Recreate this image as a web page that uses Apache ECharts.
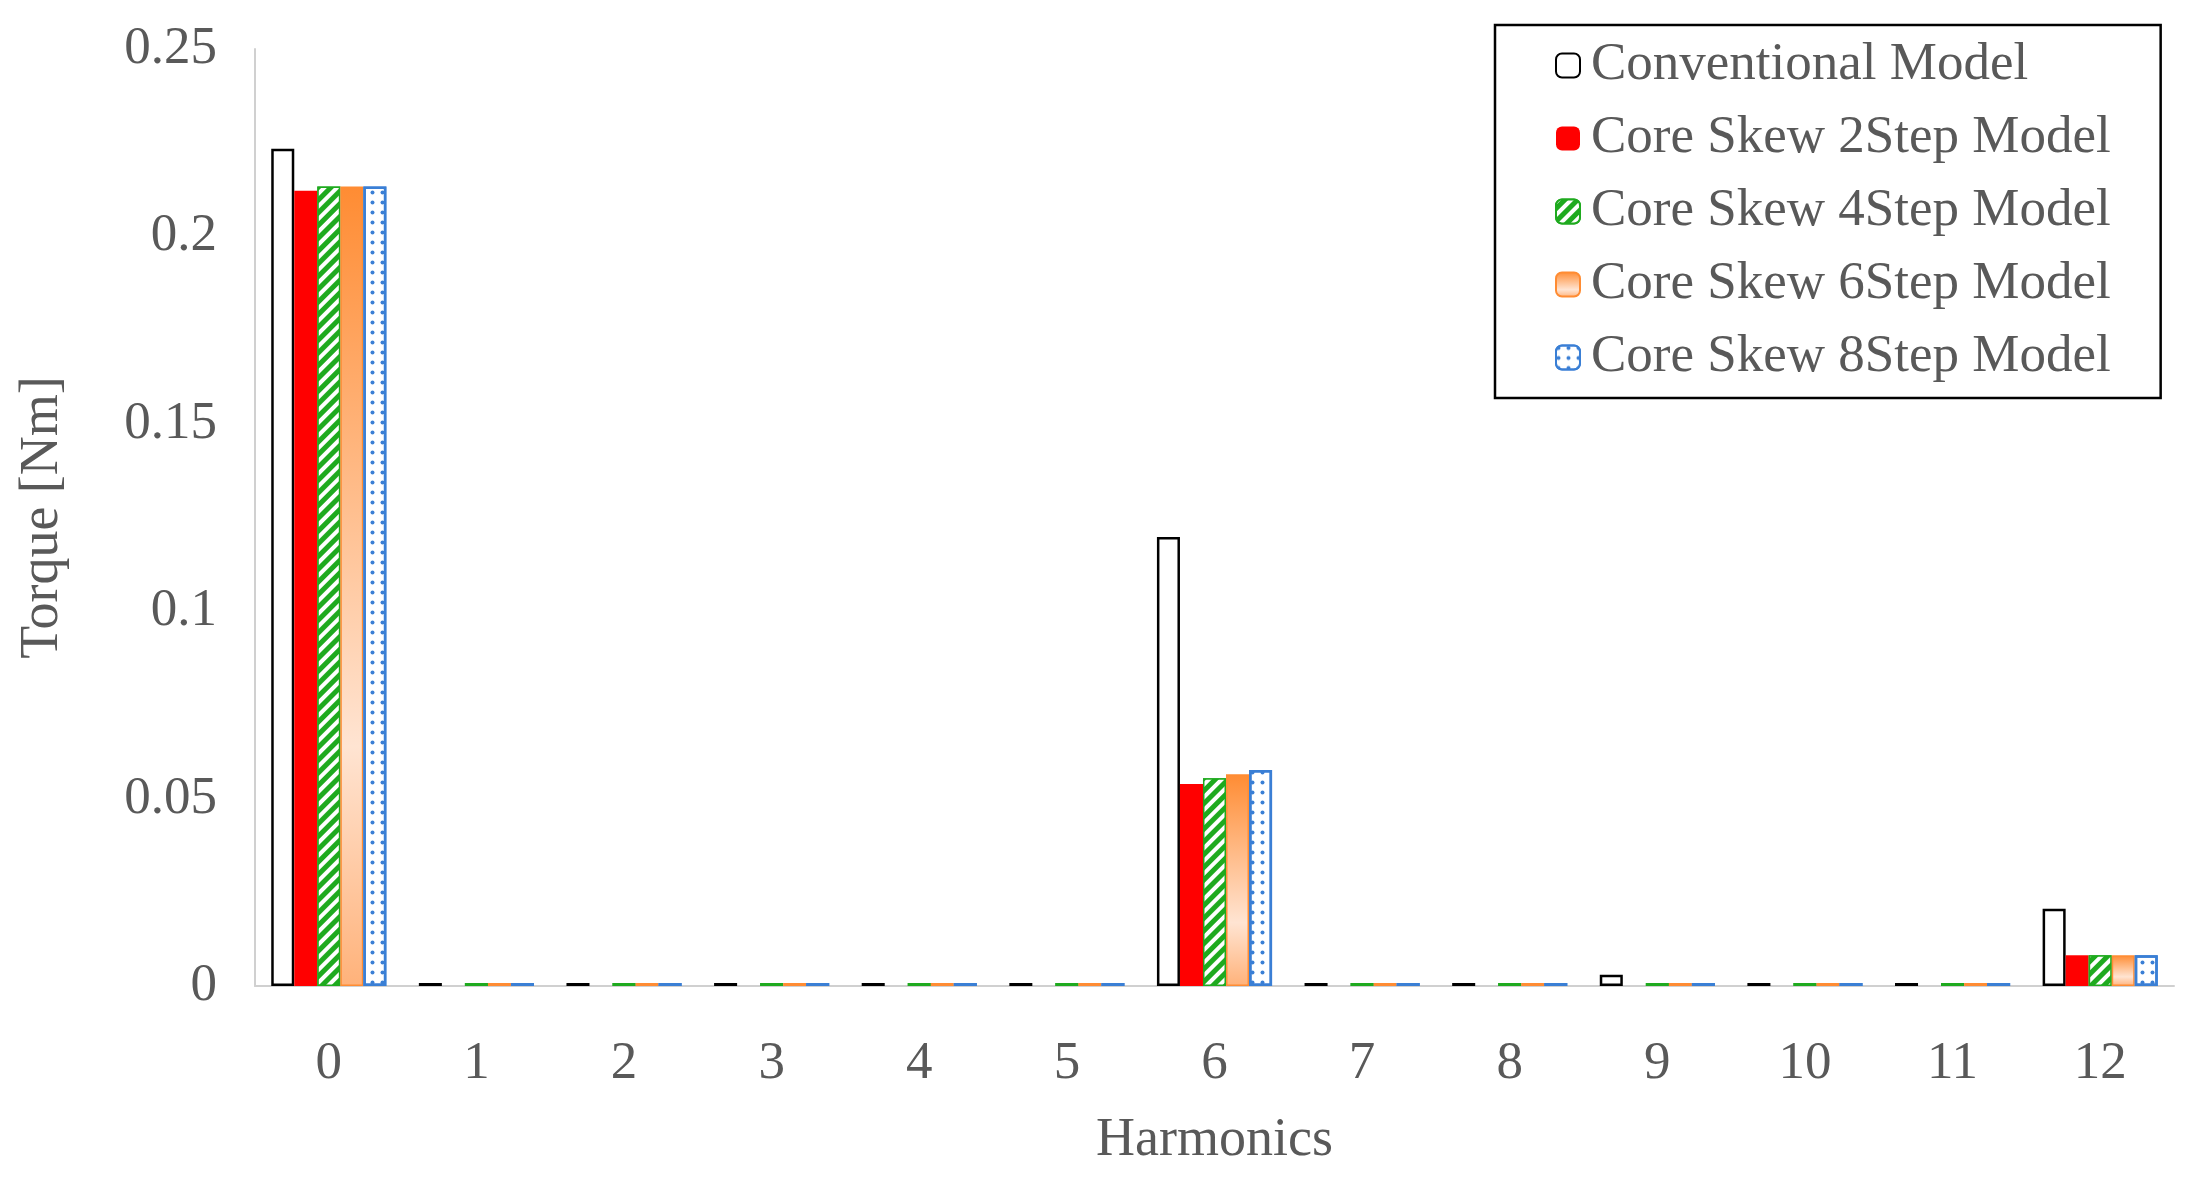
<!DOCTYPE html>
<html>
<head>
<meta charset="utf-8">
<script src="https://cdn.jsdelivr.net/npm/echarts@6/dist/echarts.min.js"></script>
<style>html,body{margin:0;padding:0;background:#fff}#chart{width:2199px;height:1188px}</style>
</head>
<body>
<div id="chart"></div>
<script>
var harmonics = ['0','1','2','3','4','5','6','7','8','9','10','11','12'];
var conventional = [0.2234,0.0008,0.0008,0.0008,0.0008,0.0008,0.1198,0.0008,0.0008,0.003,0.0008,0.0008,0.0206];
var skew2 = [0.2122,0,0,0,0,0,0.0539,0,0,0,0,0,0.0082];
var skew4 = [0.2133,0.0008,0.0008,0.0008,0.0008,0.0008,0.0554,0.0008,0.0008,0.0008,0.0008,0.0008,0.0082];
var skew6 = [0.2133,0.0008,0.0008,0.0008,0.0008,0.0008,0.0565,0.0008,0.0008,0.0008,0.0008,0.0008,0.0082];
var skew8 = [0.2133,0.0008,0.0008,0.0008,0.0008,0.0008,0.0576,0.0008,0.0008,0.0008,0.0008,0.0008,0.0082];
var yTicks = ['0','0.05','0.1','0.15','0.2','0.25'];

var font = 'Liberation Serif';
var txt = '#595959';

var option = {
    backgroundColor: '#fff',
    grid: { left: 255, right: 25, top: 49, bottom: 202 },
    legend: {
        orient: 'vertical',
        left: 1495, top: 25,
        padding: [14, 50, 14, 60],
        itemGap: 20,
        itemWidth: 24, itemHeight: 24,
        borderColor: '#000', borderWidth: 2.5,
        textStyle: { fontFamily: font, fontSize: 53, color: txt, padding: [0, 0, 0, 6] },
        data: ['Conventional Model', 'Core Skew 2Step Model', 'Core Skew 4Step Model', 'Core Skew 6Step Model', 'Core Skew 8Step Model']
    },
    xAxis: {
        type: 'category',
        data: harmonics,
        name: 'Harmonics',
        nameLocation: 'middle',
        nameGap: 128,
        nameTextStyle: { fontFamily: font, fontSize: 54, color: txt },
        axisLine: { lineStyle: { color: '#d0d0d0', width: 2 } },
        axisTick: { show: false },
        axisLabel: { fontFamily: font, fontSize: 53, color: txt, margin: 52 }
    },
    yAxis: {
        type: 'value',
        min: 0, max: 0.25, interval: 0.05,
        name: 'Torque [Nm]',
        nameLocation: 'middle',
        nameGap: 185,
        nameTextStyle: { fontFamily: font, fontSize: 54, color: txt },
        axisLine: { show: true, lineStyle: { color: '#d0d0d0', width: 2 } },
        axisTick: { show: false },
        splitLine: { show: false },
        axisLabel: {
            fontFamily: font, fontSize: 53, color: txt, margin: 38,
            formatter: function (v) { return yTicks[Math.round(v / 0.05)]; }
        }
    },
    series: [
        {
            name: 'Conventional Model', type: 'bar', data: conventional,
            barGap: '0%', barCategoryGap: '22%',
            itemStyle: { color: '#fff', borderColor: '#000', borderWidth: 2.5 }
        },
        {
            name: 'Core Skew 2Step Model', type: 'bar', data: skew2,
            itemStyle: { color: '#ff0000' }
        },
        {
            name: 'Core Skew 4Step Model', type: 'bar', data: skew4,
            itemStyle: {
                color: '#1faa1f', borderColor: '#1faa1f', borderWidth: 1.5,
                decal: { symbol: 'rect', color: '#ffffff', dashArrayX: [1, 0], dashArrayY: [4, 5], rotation: -Math.PI / 4 }
            }
        },
        {
            name: 'Core Skew 6Step Model', type: 'bar', data: skew6,
            itemStyle: {
                borderColor: '#ff8c33', borderWidth: 1.5,
                color: new echarts.graphic.LinearGradient(0, 0, 0, 1, [
                    { offset: 0, color: '#ff8c33' },
                    { offset: 0.7, color: '#ffe4d2' },
                    { offset: 1, color: '#ffb27a' }
                ])
            }
        },
        {
            name: 'Core Skew 8Step Model', type: 'bar', data: skew8,
            itemStyle: {
                color: '#ffffff', borderColor: '#3a7fd5', borderWidth: 2.5,
                decal: { symbol: 'circle', color: '#3a7fd5', symbolSize: 0.8, dashArrayX: [[5, 5]], dashArrayY: [5, 5] }
            }
        }
    ]
};
var myChart = echarts.init(document.getElementById('chart'));
myChart.setOption(option, true);
</script>
</body>
</html>
